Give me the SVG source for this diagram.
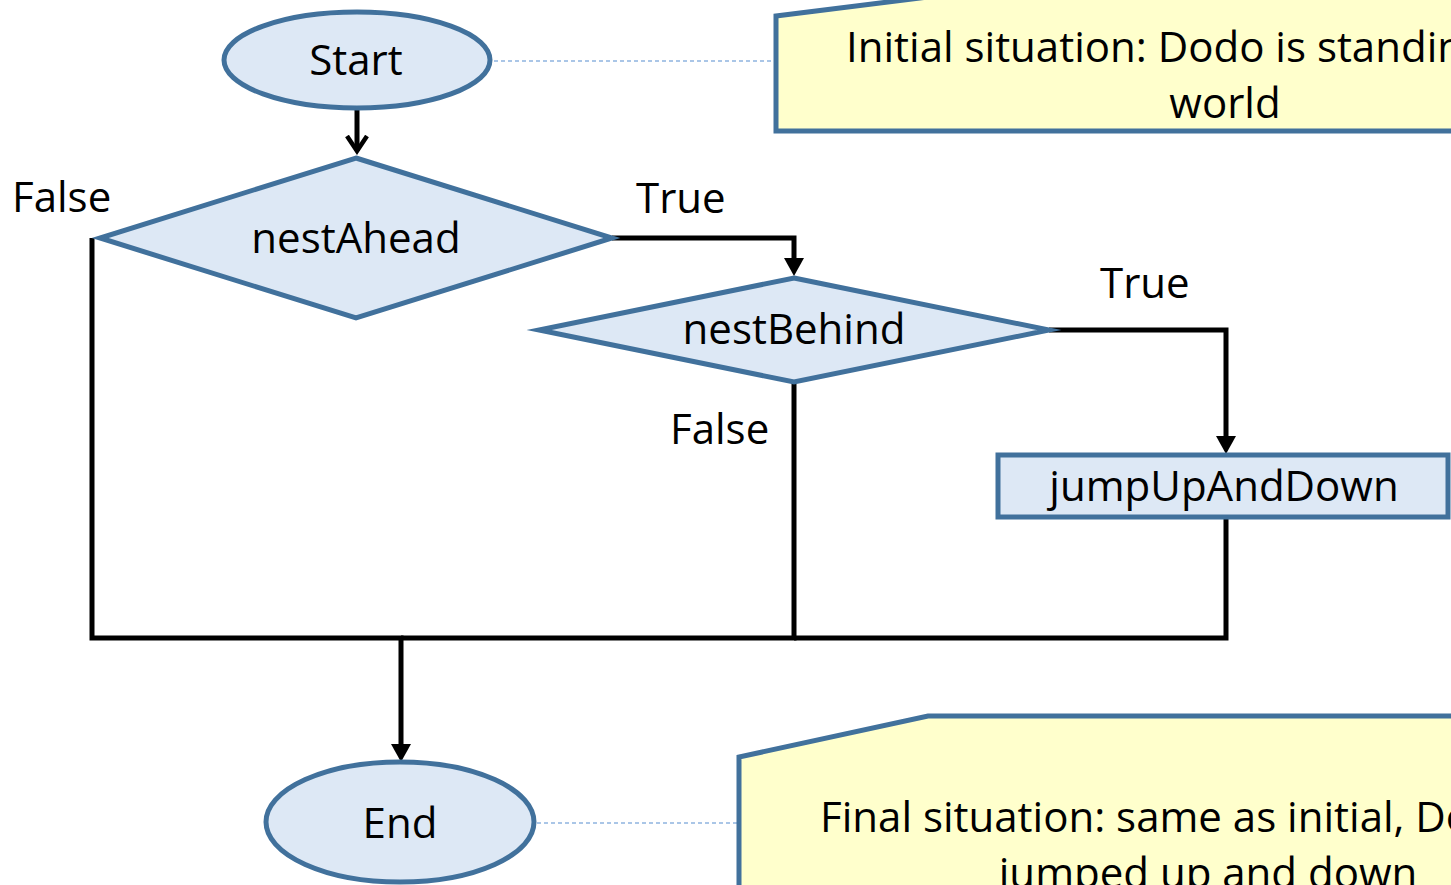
<svg xmlns="http://www.w3.org/2000/svg" width="1451" height="885" viewBox="0 0 1451 885">
  <style>
    .shape { fill: #dde8f5; stroke: #41719c; stroke-width: 5; stroke-miterlimit: 12; }
    .note { fill: #ffffcc; stroke: #41719c; stroke-width: 5; stroke-linejoin: miter; }
    .label { font-family: "Open Sans", "Liberation Sans", sans-serif; font-size: 42px; fill: #000; }
    .mid { text-anchor: middle; }
    .flow { fill: none; stroke: #000; stroke-width: 5; stroke-linejoin: miter; }
    .link { fill: none; stroke: #8fb4e0; stroke-width: 1.5; stroke-dasharray: 4 3; }
  </style>
  <defs>
    <marker id="arrow" markerUnits="userSpaceOnUse" viewBox="0 0 18 20" refX="0" refY="10" markerWidth="18" markerHeight="20" orient="auto">
      <path d="M0,0 L18,10 L0,20 Z" fill="#000"/>
    </marker>
    <marker id="open-arrow" markerUnits="userSpaceOnUse" viewBox="0 0 20 26" refX="16" refY="13" markerWidth="20" markerHeight="26" orient="auto">
      <path d="M1,3 L16,13 L1,23" fill="none" stroke="#000" stroke-width="4.5"/>
    </marker>
  </defs>

  <!-- annotation links -->
  <g id="annotation-links">
    <path class="link" d="M494,61 H776"/>
    <path class="link" d="M537,823 H738"/>
  </g>

  <!-- flow connectors -->
  <g id="connectors">
    <path class="flow" d="M357,110 V151" marker-end="url(#open-arrow)"/>
    <path class="flow" d="M612,238 H794 V258" marker-end="url(#arrow)"/>
    <path class="flow" d="M1049,330 H1226 V436" marker-end="url(#arrow)"/>
    <path class="flow" d="M92,238 V638 H401 V744" marker-end="url(#arrow)"/>
    <path class="flow" d="M794,382 V638 H401"/>
    <path class="flow" d="M1226,517 V638 H794"/>
  </g>

  <!-- notes -->
  <g id="note-initial">
    <polygon class="note" points="776,131 776,16 960,-7 1700,-7 1700,131"/>
    <text class="label" x="846" y="62">Initial situation: Dodo is standin</text>
    <text class="label mid" x="1225" y="118">world</text>
  </g>
  <g id="note-final">
    <polygon class="note" points="739,900 739,757 928,716 1700,716 1700,900"/>
    <text class="label" x="820" y="832">Final situation: same as initial, Do</text>
    <text class="label mid" x="1208" y="888">jumped up and down</text>
  </g>

  <!-- nodes -->
  <g id="start">
    <ellipse class="shape" cx="357" cy="60" rx="133" ry="48"/>
    <text class="label mid" x="356" y="75">Start</text>
  </g>
  <g id="nest-ahead">
    <polygon class="shape" points="356,158 612,238 356,318 100,238"/>
    <text class="label mid" x="356" y="253">nestAhead</text>
  </g>
  <g id="nest-behind">
    <polygon class="shape" points="794,278 1049,330 794,382 539,330"/>
    <text class="label mid" x="794" y="344">nestBehind</text>
  </g>
  <g id="jump-up-and-down">
    <rect class="shape" x="998" y="455" width="450" height="62"/>
    <text class="label mid" x="1224" y="501">jumpUpAndDown</text>
  </g>
  <g id="end">
    <ellipse class="shape" cx="400" cy="822" rx="134" ry="60"/>
    <text class="label mid" x="400" y="838">End</text>
  </g>

  <!-- branch labels -->
  <g id="branch-labels">
    <text class="label" x="12" y="212">False</text>
    <text class="label" x="636" y="213">True</text>
    <text class="label" x="1100" y="298">True</text>
    <text class="label" x="670" y="444">False</text>
  </g>
</svg>
